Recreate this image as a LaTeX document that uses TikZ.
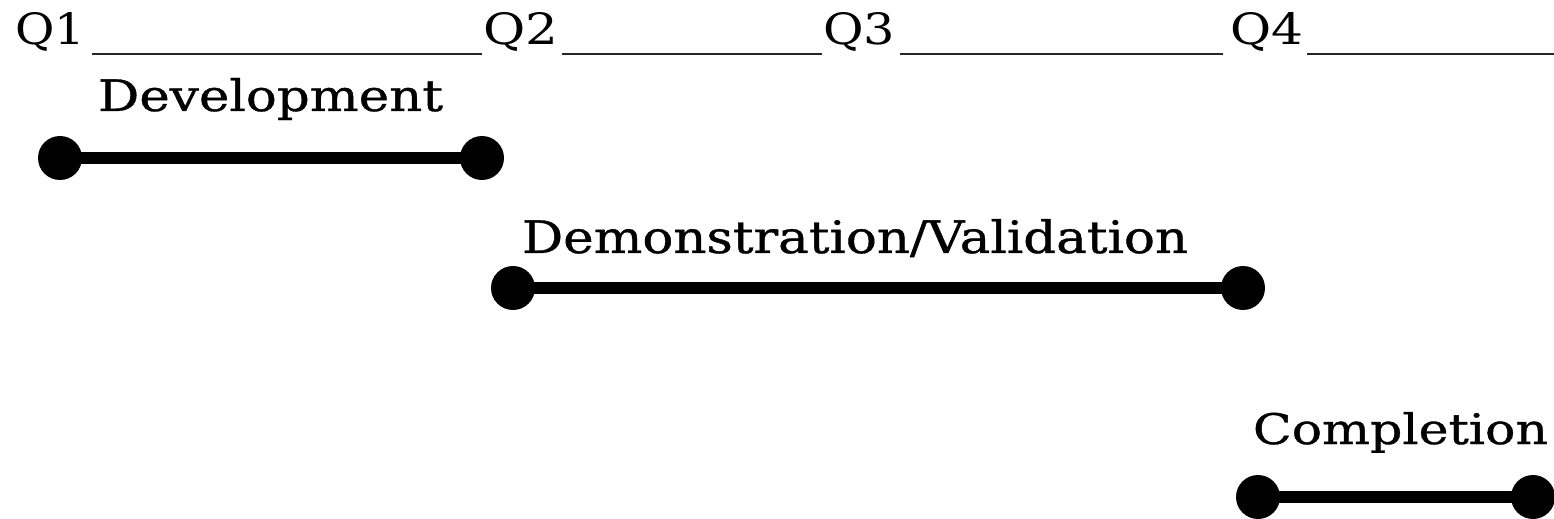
\documentclass[tikz,border=0pt]{standalone}
\usepackage{fontspec}
\setmainfont{DejaVu Serif}
\newfontfamily\heavyserif[FakeBold=0.8]{DejaVu Serif}
\usepackage{graphicx}
\begin{document}
\begin{tikzpicture}[x=0.5pt,y=-0.5pt,
  lbl/.style={inner sep=0pt,outer sep=0pt,anchor=base west,font=\heavyserif\fontsize{22}{26}\selectfont},
  qlbl/.style={inner sep=0pt,outer sep=0pt,anchor=base west,font=\fontsize{22}{26}\selectfont},
  qline/.style={line width=1pt,black!85},
  bar/.style={line width=6pt,black},
  dot/.style={circle,fill=black,inner sep=0pt,minimum size=22pt}]
\useasboundingbox (0,0) rectangle (1554,519);
% quarter labels
\node[qlbl] (q1) at (15,45) {\resizebox{35pt}{16pt}{Q1}};
\node[qlbl] (q2) at (483,45) {\resizebox{37.5pt}{16pt}{Q2}};
\node[qlbl] (q3) at (823,45) {\resizebox{36pt}{16pt}{Q3}};
\node[qlbl] (q4) at (1230,45) {\resizebox{36.5pt}{16pt}{Q4}};
\coordinate (qend) at (1554,54);
\draw[qline] (92,54) -- (482,54);
\draw[qline] (562,54) -- (822,54);
\draw[qline] (900,54) -- (1223,54);
\draw[qline] (1307,54) -- (qend);
% phase labels
\node[lbl] (dev) at (98,111) {\resizebox{172.5pt}{16.5pt}{Development}};
\node[lbl] (demo) at (522,253) {\resizebox{333pt}{17pt}{Demonstration/Validation}};
\node[lbl] (comp) at (1253,444) {\resizebox{147.5pt}{16pt}{Completion}};
% bars
\node[dot] (d1) at (60,158) {};
\node[dot] (d2) at (482,158) {};
\draw[bar] (d1.center) -- (d2.center);
\node[dot] (v1) at (513,288) {};
\node[dot] (v2) at (1243,288) {};
\draw[bar] (v1.center) -- (v2.center);
\node[dot] (c1) at (1258,497) {};
\node[dot] (c2) at (1533,497) {};
\draw[bar] (c1.center) -- (c2.center);
\end{tikzpicture}
\end{document}
